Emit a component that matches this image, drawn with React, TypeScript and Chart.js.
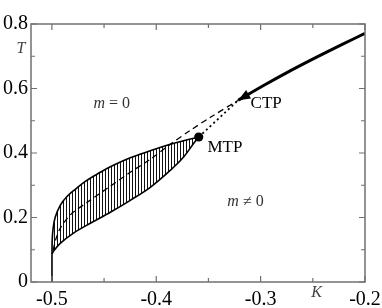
import React, { useEffect, useRef } from 'react';
import { Chart, registerables } from 'chart.js';

Chart.register(...registerables);

// ---- axis ticks ----
const xTickValues = [-0.5, -0.4, -0.3, -0.2];
const xTickLabels = ['-0.5', '-0.4', '-0.3', '-0.2'];
const xMinorValues = [-0.45, -0.35, -0.25];
const yTickValues = [0, 0.2, 0.4, 0.6, 0.8];
const yTickLabels = ['0', '0.2', '0.4', '0.6', '0.8'];
const yMinorValues = [0.1, 0.3, 0.5, 0.7];

// ---- curves (K, T) ----
const stemK = [-0.5, -0.4999];
const stemT = [0, 0.086];

const upperK = [-0.4999, -0.4997, -0.4988, -0.4968, -0.492, -0.4853, -0.4776, -0.468, -0.4536, -0.444, -0.4249, -0.4057, -0.3865, -0.3673, -0.3593];
const upperT = [0.086, 0.1293, 0.1665, 0.2006, 0.2378, 0.2657, 0.2874, 0.3122, 0.3402, 0.3572, 0.3851, 0.4068, 0.427, 0.4434, 0.4496];

const lowerK = [-0.3593, -0.3644, -0.374, -0.3865, -0.4057, -0.4249, -0.444, -0.4632, -0.4796, -0.492, -0.4985, -0.4999];
const lowerT = [0.4496, 0.4285, 0.3867, 0.3464, 0.2936, 0.2533, 0.2161, 0.182, 0.151, 0.12, 0.0952, 0.086];

const dashedK = [-0.4988, -0.4959, -0.492, -0.4853, -0.4796, -0.4661, -0.4469, -0.4249, -0.4057, -0.3865, -0.3673, -0.3481, -0.3215];
const dashedT = [0.0983, 0.1355, 0.1665, 0.1975, 0.2161, 0.2471, 0.2905, 0.3402, 0.3805, 0.427, 0.4704, 0.5107, 0.5634];

const mtpK = -0.3593;
const mtpT = 0.4496;
const ctpK = -0.3215;
const ctpT = 0.5634;

const solidK = [-0.3215, -0.2972, -0.2713, -0.2454, -0.2223, -0.2];
const solidT = [0.5634, 0.6093, 0.6555, 0.6989, 0.7361, 0.7709];

// ---- annotations ----
const noteTexts = ['CTP', 'MTP'];
const noteK = [-0.3096, -0.351];
const noteT = [0.554, 0.4161];

const toPts = (xs: number[], ys: number[]) => xs.map((x, i) => ({ x, y: ys[i] }));

const SERIF = "'Liberation Serif', 'Times New Roman', Times, serif";

function drawMath(ctx: CanvasRenderingContext2D, parts: { t: string; it?: boolean }[], cx: number, cy: number, size: number, color: string) {
  const fonts = parts.map((p) => `${p.it ? 'italic ' : ''}${size}px ${SERIF}`);
  let total = 0;
  const widths = parts.map((p, i) => {
    ctx.font = fonts[i];
    const w = ctx.measureText(p.t).width;
    total += w;
    return w;
  });
  let x = cx - total / 2;
  ctx.fillStyle = color;
  ctx.textBaseline = 'middle';
  ctx.textAlign = 'left';
  parts.forEach((p, i) => {
    ctx.font = fonts[i];
    ctx.fillText(p.t, x, cy);
    x += widths[i];
  });
}

const decorPlugin = {
  id: 'decor',
  afterDatasetsDraw(chart: any) {
    const { ctx, chartArea: a, scales } = chart;
    const xs = scales.x;
    const ys = scales.y;
    ctx.save();

    // arrow head at CTP
    const tx = xs.getPixelForValue(ctpK);
    const ty = ys.getPixelForValue(ctpT);
    const sx = xs.getPixelForValue(solidK[1]);
    const sy = ys.getPixelForValue(solidT[1]);
    const ang = Math.atan2(ty - sy, tx - sx);
    const L = 12;
    const W = 4.8;
    const bx = tx - L * Math.cos(ang);
    const by = ty - L * Math.sin(ang);
    ctx.beginPath();
    ctx.moveTo(tx, ty);
    ctx.lineTo(bx + W * Math.sin(ang), by - W * Math.cos(ang));
    ctx.lineTo(bx - W * Math.sin(ang), by + W * Math.cos(ang));
    ctx.closePath();
    ctx.fillStyle = '#000';
    ctx.fill();

    // frame
    ctx.strokeStyle = '#707070';
    ctx.lineWidth = 1.5;
    ctx.strokeRect(a.left, a.top, a.right - a.left, a.bottom - a.top);

    // inward ticks on all four sides
    ctx.lineWidth = 1.2;
    ctx.beginPath();
    const xt = (v: number, len: number) => {
      const p = xs.getPixelForValue(v);
      ctx.moveTo(p, a.bottom);
      ctx.lineTo(p, a.bottom - len);
      ctx.moveTo(p, a.top);
      ctx.lineTo(p, a.top + len);
    };
    const yt = (v: number, len: number) => {
      const p = ys.getPixelForValue(v);
      ctx.moveTo(a.left, p);
      ctx.lineTo(a.left + len, p);
      ctx.moveTo(a.right, p);
      ctx.lineTo(a.right - len, p);
    };
    xTickValues.forEach((v) => xt(v, 6));
    xMinorValues.forEach((v) => xt(v, 4));
    yTickValues.forEach((v) => yt(v, 6));
    yMinorValues.forEach((v) => yt(v, 4));
    ctx.stroke();

    // point labels
    ctx.fillStyle = '#000';
    ctx.font = `17px ${SERIF}`;
    ctx.textBaseline = 'middle';
    ctx.textAlign = 'left';
    noteTexts.forEach((t, i) => {
      ctx.fillText(t, xs.getPixelForValue(noteK[i]), ys.getPixelForValue(noteT[i]));
    });

    // phase labels
    drawMath(ctx, [{ t: 'm', it: true }, { t: ' = 0' }], xs.getPixelForValue(-0.4427), ys.getPixelForValue(0.554), 16, '#333');
    drawMath(ctx, [{ t: 'm', it: true }, { t: ' \u2260 0' }], xs.getPixelForValue(-0.3145), ys.getPixelForValue(0.2502), 16, '#333');

    // axis symbols
    drawMath(ctx, [{ t: 'T', it: true }], xs.getPixelForValue(-0.5296), ys.getPixelForValue(0.7216), 16, '#444');
    drawMath(ctx, [{ t: 'K', it: true }], xs.getPixelForValue(-0.2463), ys.getPixelForValue(-0.0335), 16, '#444');

    ctx.restore();
  },
};

export default function App() {
  const ref = useRef<HTMLCanvasElement | null>(null);

  useEffect(() => {
    const canvas = ref.current;
    if (!canvas) return;
    const c2d = canvas.getContext('2d') as CanvasRenderingContext2D;
    const pc = document.createElement('canvas');
    pc.width = 3;
    pc.height = 3;
    const pg = pc.getContext('2d') as CanvasRenderingContext2D;
    pg.fillStyle = '#111';
    pg.fillRect(0, 0, 1, 3);
    const hatch = c2d.createPattern(pc, 'repeat');

    const polygon = [...toPts(upperK, upperT), ...toPts(lowerK, lowerT).slice(1)];
    const base = { showLine: true, pointRadius: 0, borderColor: '#000', fill: false };

    const chart = new Chart(canvas, {
      type: 'scatter',
      data: {
        datasets: [
          { ...base, data: [{ x: mtpK, y: mtpT }], showLine: false, pointRadius: 4.6, pointBackgroundColor: '#000', pointBorderWidth: 0 },
          { ...base, data: toPts(solidK, solidT), borderWidth: 3, tension: 0.3 },
          { ...base, data: [{ x: mtpK, y: mtpT }, { x: ctpK, y: ctpT }], borderWidth: 1.8, borderDash: [2, 3] },
          { ...base, data: toPts(dashedK, dashedT), borderWidth: 1.3, borderDash: [6, 4], tension: 0.3 },
          { ...base, data: toPts(stemK, stemT), borderWidth: 1.6 },
          { ...base, data: toPts(upperK, upperT), borderWidth: 1.6, tension: 0.35 },
          { ...base, data: toPts(lowerK, lowerT), borderWidth: 1.6, tension: 0.35 },
          { ...base, data: polygon, borderColor: 'rgba(0,0,0,0)', borderWidth: 1, fill: 'shape', backgroundColor: hatch, tension: 0 },
        ],
      },
      options: {
        animation: false,
        responsive: false,
        devicePixelRatio: 1,
        font: { family: SERIF },
        layout: { padding: { top: 24, right: 17, left: 0, bottom: 0 } },
        plugins: { legend: { display: false }, tooltip: { enabled: false } },
        scales: {
          x: {
            type: 'linear',
            min: -0.52,
            max: -0.2,
            grid: { display: false, drawTicks: false },
            border: { display: false },
            afterBuildTicks: (s: any) => {
              s.ticks = xTickValues.map((v) => ({ value: v }));
            },
            afterFit: (s: any) => {
              s.height = 26;
              s.paddingLeft = 0;
              s.paddingRight = 0;
            },
            ticks: {
              autoSkip: false,
              maxRotation: 0,
              padding: 6,
              color: '#000',
              font: { family: SERIF, size: 20 },
              callback: (_v: any, i: number) => xTickLabels[i],
            },
          },
          y: {
            type: 'linear',
            min: 0,
            max: 0.8,
            grid: { display: false, drawTicks: false },
            border: { display: false },
            afterBuildTicks: (s: any) => {
              s.ticks = yTickValues.map((v) => ({ value: v }));
            },
            afterFit: (s: any) => {
              s.width = 31;
              s.paddingTop = 0;
              s.paddingBottom = 0;
            },
            ticks: {
              autoSkip: false,
              padding: 3,
              color: '#000',
              font: { family: SERIF, size: 20 },
              callback: (_v: any, i: number) => yTickLabels[i],
            },
          },
        },
      },
      plugins: [decorPlugin],
    } as any);

    return () => chart.destroy();
  }, []);

  return (
    <div style={{ position: 'fixed', left: 0, top: 0, width: 382, height: 308, background: '#fff' }}>
      <canvas ref={ref} width={382} height={308} style={{ display: 'block' }} />
    </div>
  );
}
